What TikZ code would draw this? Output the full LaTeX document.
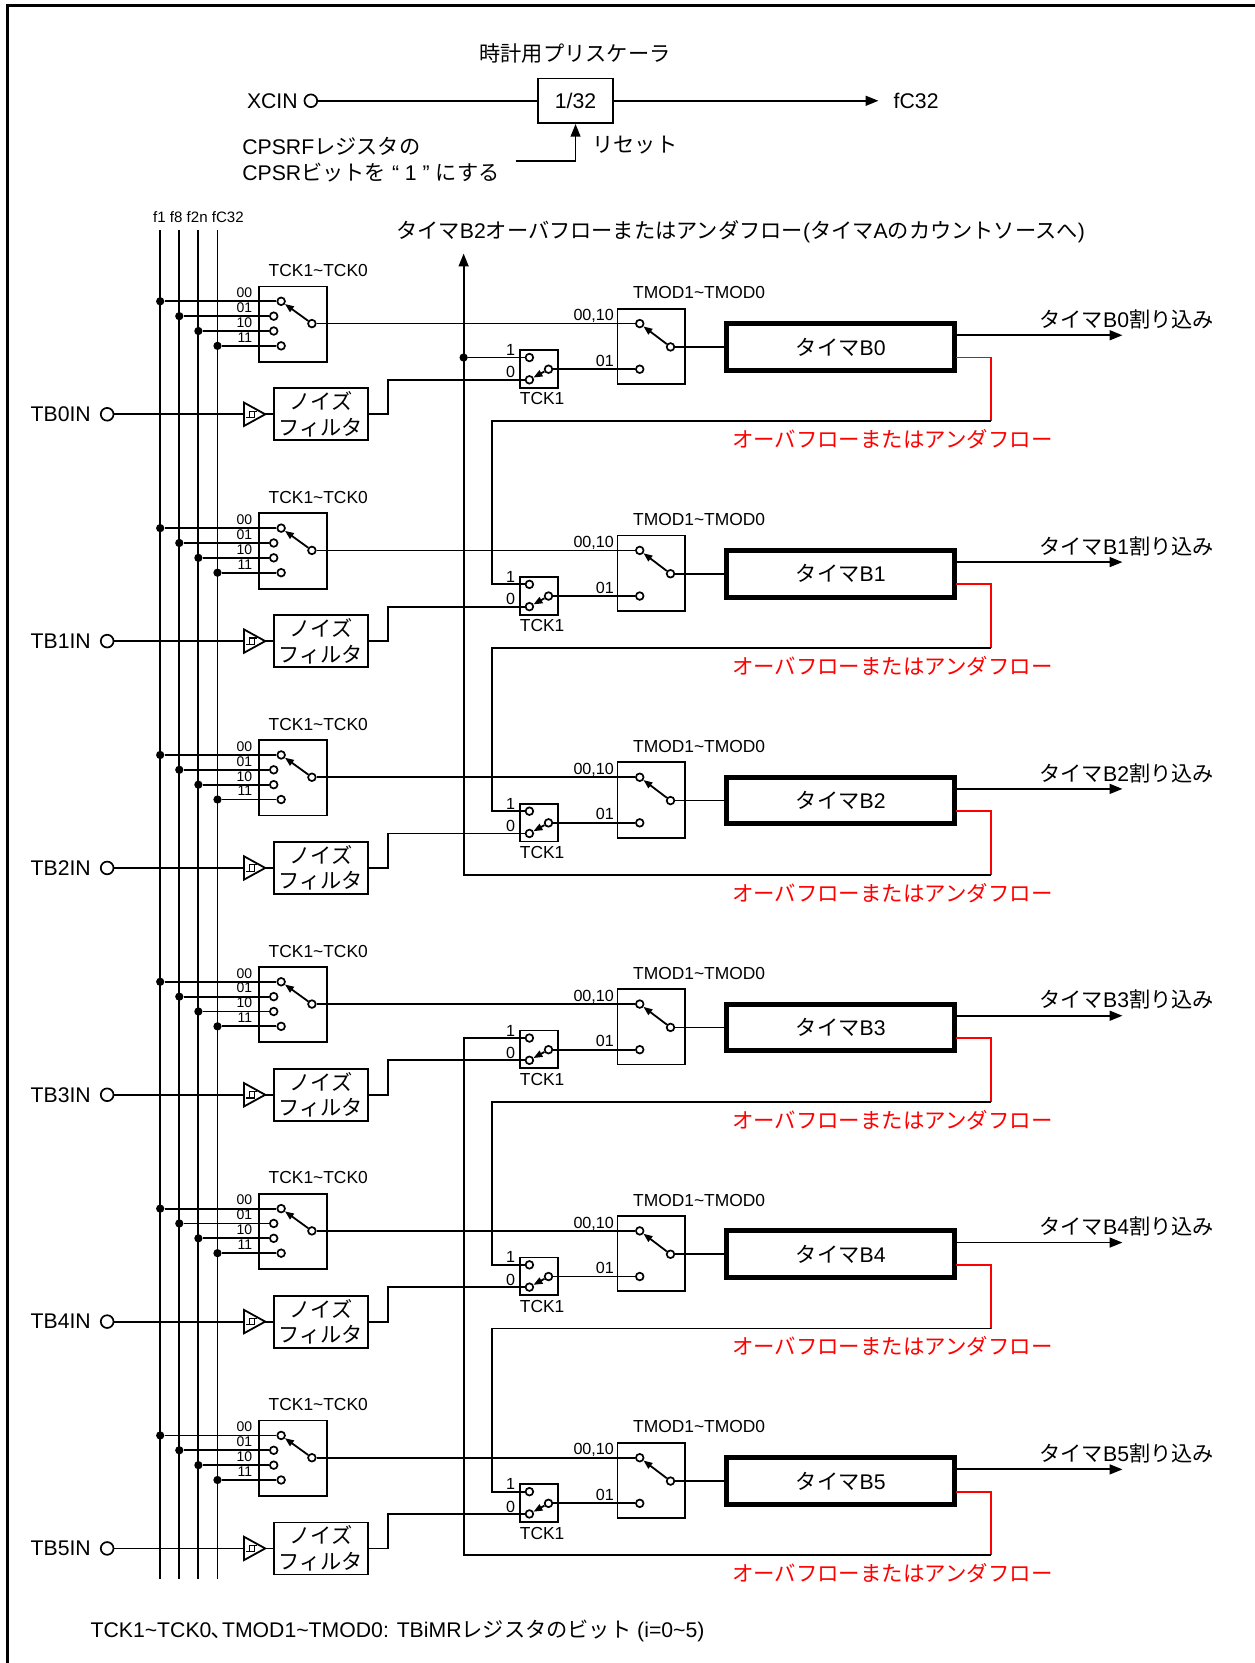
\documentclass[tikz,border=0pt]{standalone}
\usepackage{fontspec}
\setmainfont{Liberation Sans}
\newfontfamily\jpf{Noto Sans CJK JP}
\usetikzlibrary{arrows.meta}
\newcommand{\tld}{\char"007E\relax}
\newcommand{\J}[1]{{\jpf #1}}
\begin{document}
\begin{tikzpicture}[x=0.5pt,y=-0.5pt,
  wire/.style={line width=0.85pt},
  bigarr/.style={-{Triangle[length=6pt,width=4.6pt]}},
  swarr/.style={line width=0.85pt,-{Triangle[length=4.2pt,width=3.2pt]}},
  term/.style={circle,draw,line width=0.8pt,inner sep=0pt,minimum size=3.6pt,fill=white},
  inpin/.style={circle,draw,line width=0.8pt,inner sep=0pt,minimum size=6pt},
  jdot/.style={circle,fill,inner sep=0pt,minimum size=3.9pt},
  blk/.style={draw,line width=0.85pt,inner sep=0pt,rectangle},
  lbl/.style={inner sep=0pt,font=\fontsize{10}{12}\selectfont},
  mid/.style={inner sep=0pt,font=\fontsize{8.2}{10}\selectfont},
  sml/.style={inner sep=0pt,font=\fontsize{7.6}{9}\selectfont},
  tny/.style={inner sep=0pt,font=\fontsize{6.6}{7}\selectfont},
  ovf/.style={inner sep=0pt,font=\fontsize{10.1}{12}\selectfont,text=red}
]
\useasboundingbox (0,0) rectangle (1182,1567.5);
\draw[line width=1.2pt] (7,1600) -- (7,5) -- (1200,5);

% ---- clock prescaler ----
\node[lbl] (ptitle) at (542,50) {\J{時計用プリスケーラ}};
\node[blk,lbl,minimum width=35.5pt,minimum height=21pt] (presc) at (542.5,95) {1/32};
\node[inpin] (xcin) at (293,95) {};
\node[lbl,anchor=east] (xcinl) at (281,95) {XCIN};
\coordinate (fcend) at (828,95);
\node[lbl,anchor=west] (fcl) at (842,95) {fC32};
\draw[wire] (xcin) -- (presc);
\draw[wire,bigarr] (presc) -- (fcend);
\coordinate (rst) at (486,152);
\draw[wire,bigarr] (rst) -| (presc.south);
\node[lbl,anchor=west] (rstl) at (558,137) {\J{リセット}};
\node[lbl,anchor=west] (cp1) at (228,138) {CPSRF\J{レジスタの}};
\node[lbl,anchor=west] (cp2) at (228,163) {CPSR\J{ビットを} “ 1 ” \J{にする}};

% ---- clock bus ----
\foreach \bx/\bn in {151/fa,169/fb,187/fc,205/fd}{
  \coordinate (\bn top) at (\bx,217);
  \coordinate (\bn bot) at (\bx,1488);
  \draw[wire] (\bn top) -- (\bn bot);
}
\node[tny,anchor=west,font=\fontsize{7.1}{8}\selectfont] (buslbl) at (144,205) {f1 f8 f2n fC32};

\node[lbl] (b2lbl) at (698,218) {\J{タイマ}B2\J{オーバフローまたはアンダフロー}(\J{タイマ}A\J{のカウントソースへ})};
\coordinate (toparr) at (437,239);

% ---- channels ----
\foreach \i in {0,...,5}{
  \pgfmathsetmacro\dy{\i*213.8}
  % count source selector
  \node[mid] (tcl\i) at (300,255+\dy) {TCK1\tld TCK0};
  \node[blk,minimum width=32pt,minimum height=35.5pt] (sel\i) at (276,305.5+\dy) {};
  \node[term] (s00\i) at (265,284+\dy) {};
  \node[term] (s01\i) at (258,298+\dy) {};
  \node[term] (s10\i) at (258,312+\dy) {};
  \node[term] (s11\i) at (265,326+\dy) {};
  \node[term] (so\i) at (294,305+\dy) {};
  \node[jdot] (d00\i) at (151,284+\dy) {};
  \node[jdot] (d01\i) at (169,298+\dy) {};
  \node[jdot] (d10\i) at (187,312+\dy) {};
  \node[jdot] (d11\i) at (205,326+\dy) {};
  \draw[wire] (d00\i) -- (s00\i);
  \draw[wire] (d01\i) -- (s01\i);
  \draw[wire] (d10\i) -- (s10\i);
  \draw[wire] (d11\i) -- (s11\i);
  \draw[swarr] (so\i) -- (s00\i);
  \node[tny,anchor=east] (l00\i) at (238,276+\dy) {00};
  \node[tny,anchor=east] (l01\i) at (238,290+\dy) {01};
  \node[tny,anchor=east] (l10\i) at (238,304+\dy) {10};
  \node[tny,anchor=east] (l11\i) at (238,318+\dy) {11};
  % TMOD selector
  \node[mid] (tml\i) at (659,276+\dy) {TMOD1\tld TMOD0};
  \node[blk,minimum width=32pt,minimum height=35.5pt] (tm\i) at (614,326.5+\dy) {};
  \node[term] (ma\i) at (603,305+\dy) {};
  \node[term] (mb\i) at (603,348+\dy) {};
  \node[term] (mo\i) at (632,327+\dy) {};
  \draw[swarr] (mo\i) -- (ma\i);
  \node[sml,anchor=east] (lma\i) at (579,298+\dy) {00,10};
  \node[sml,anchor=east] (lmb\i) at (579,340+\dy) {01};
  % TCK1 selector
  \node[blk,minimum width=18pt,minimum height=17.75pt] (tk\i) at (508,347.75+\dy) {};
  \node[term] (ka\i) at (499,337+\dy) {};
  \node[term] (kb\i) at (499,358+\dy) {};
  \node[term] (ko\i) at (517,348+\dy) {};
  \draw[swarr] (ko\i) -- (kb\i);
  \node[sml,anchor=east] (lka\i) at (486,330+\dy) {1};
  \node[sml,anchor=east] (lkb\i) at (486,351+\dy) {0};
  \node[mid] (tkl\i) at (511,376+\dy) {TCK1};
  % noise filter and input
  \node[blk,lbl,align=center,minimum width=44.5pt,minimum height=24.5pt] (nf\i) at (302.5,390.5+\dy) {\J{ノイズ}\\\J{フィルタ}};
  \coordinate (sl\i) at (230,390.5+\dy);
  \coordinate (st\i) at (250,390.5+\dy);
  \draw[wire] (230,379.5+\dy) -- (st\i) -- (230,401.5+\dy) -- cycle;
  \draw[line width=0.55pt] (232,393.5+\dy) -- (240,393.5+\dy) -- (240,387.5+\dy)
        (235,393.5+\dy) -- (235,387.5+\dy) -- (242,387.5+\dy);
  \node[inpin] (tb\i) at (101,390.5+\dy) {};
  \node[lbl,anchor=east] (tbl\i) at (86,390.5+\dy) {TB\i IN};
  \draw[wire] (tb\i) -- (sl\i);
  \draw[wire] (st\i) -- (nf\i.west);
  \draw[wire] (nf\i.east) -- ++(18,0) |- (kb\i);
  % connections
  \draw[wire] (so\i) -- (ma\i);
  \draw[wire] (ko\i) -- (mb\i);
  % timer
  \node[draw,line width=2.4pt,lbl,minimum width=107.5pt,minimum height=22pt] (tmr\i) at (792.5,327+\dy) {\J{タイマ}B\i};
  \draw[wire] (mo\i) -- (mo\i -| tmr\i.west);
  \coordinate (ia\i) at (901,316+\dy);
  \coordinate (ib\i) at (1058,316+\dy);
  \draw[wire,bigarr] (ia\i) -- (ib\i);
  \node[lbl] (il\i) at (1062,301+\dy) {\J{タイマ}B\i\J{割り込み}};
  \coordinate (ra\i) at (901,337+\dy);
  \coordinate (rc\i) at (934,397+\dy);
  \draw[wire,red] (ra\i) -| (rc\i);
  \node[ovf] (ot\i) at (841,414+\dy) {\J{オーバフローまたはアンダフロー}};
  \coordinate (jn\i) at (437,337+\dy);
  \coordinate (jm\i) at (464,337+\dy);
}

% ---- overflow chains ----
\node[jdot] (jd0) at (jn0) {};
\draw[wire] (jd0) -- (ka0);
\draw[wire] (rc0) -| (jm1) -- (ka1);
\draw[wire] (rc1) -| (jm2) -- (ka2);
\draw[wire,bigarr] (rc2) -| (toparr);
\draw[wire] (rc3) -| (jm4) -- (ka4);
\draw[wire] (rc4) -| (jm5) -- (ka5);
\draw[wire] (rc5) -| (jn3) -- (ka3);

\node[lbl,anchor=west] (foot) at (85,1537) {TCK1\tld TCK0\J{､}TMOD1\tld TMOD0: TBiMR\J{レジスタのビット} (i=0\tld 5)};
\end{tikzpicture}
\end{document}
